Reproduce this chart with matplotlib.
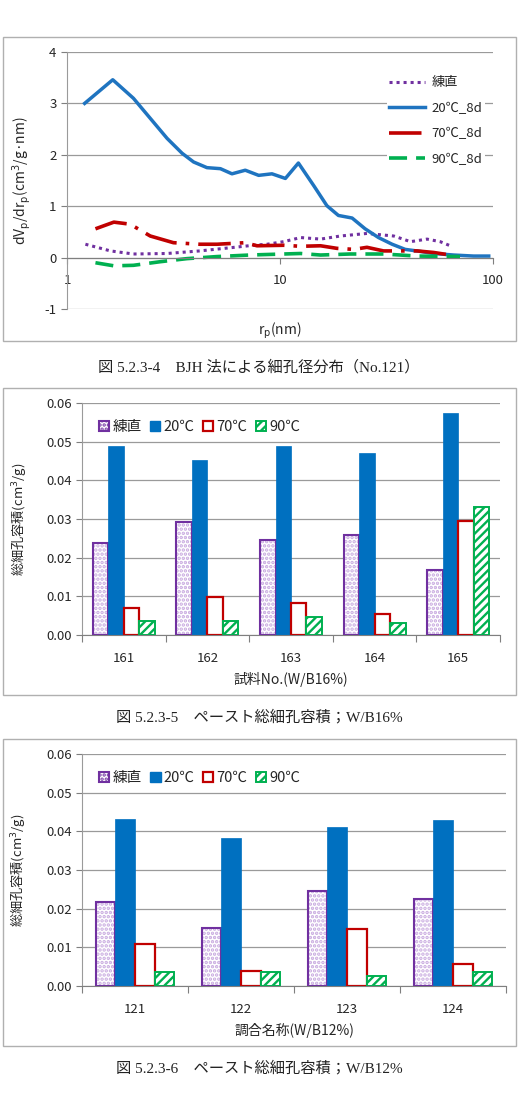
import matplotlib
matplotlib.use('Agg')
import matplotlib.pyplot as plt
import numpy as np
from matplotlib.patches import Rectangle, Patch

plt.rcParams['font.family'] = ['Noto Sans CJK JP', 'DejaVu Sans']
plt.rcParams['mathtext.fontset'] = 'dejavusans'
plt.rcParams['axes.unicode_minus'] = False
plt.rcParams['hatch.linewidth'] = 1.7

# --- chart 1: BJH pore size distribution (No.121) ---
r_20 = [1.21, 1.64, 2.05, 2.38, 2.95, 3.47, 3.93, 4.54, 5.25, 5.95, 6.87, 7.94, 9.17,
        10.6, 12.2, 14.4, 16.6, 18.8, 21.8, 25.1, 29.0, 33.6, 38.7, 45.6, 52.6, 65.3, 81.1, 95.5]
dv_20 = [3.00, 3.46, 3.10, 2.78, 2.32, 2.03, 1.86, 1.75, 1.73, 1.63, 1.70, 1.60, 1.63,
         1.54, 1.84, 1.40, 1.01, 0.82, 0.77, 0.56, 0.39, 0.26, 0.16, 0.12, 0.08, 0.05, 0.03, 0.03]
r_mix = [1.22, 1.6, 2.05, 2.95, 4.2, 6.1, 7.5, 8.7, 10.4, 12.5, 15.5, 19.2, 25.6, 34.2, 41, 49, 56.5, 63]
dv_mix = [0.26, 0.13, 0.07, 0.08, 0.13, 0.20, 0.24, 0.26, 0.31, 0.39, 0.36, 0.42, 0.47, 0.42, 0.31, 0.36, 0.31, 0.23]
r_70 = [1.36, 1.66, 1.98, 2.46, 3.16, 4.2, 5.06, 6.87, 7.8, 10.4, 12.5, 15.5, 18.5, 22.2,
        25.6, 30.6, 36.7, 44, 52.6, 63]
dv_70 = [0.56, 0.69, 0.65, 0.42, 0.29, 0.26, 0.26, 0.29, 0.23, 0.24, 0.22, 0.23, 0.18, 0.16,
         0.20, 0.13, 0.13, 0.13, 0.10, 0.05]
r_90 = [1.36, 1.66, 2.05, 2.74, 3.66, 5.06, 7.2, 10.4, 12.5, 15.5, 21.3, 30.6, 44, 70]
dv_90 = [-0.10, -0.16, -0.15, -0.08, -0.02, 0.02, 0.05, 0.07, 0.08, 0.05, 0.07, 0.07, 0.03, 0.02]
line_labels = ['練直', '20℃_8d', '70℃_8d', '90℃_8d']

# --- charts 2 and 3: total pore volume ---
bar_labels = ['練直', '20℃', '70℃', '90℃']
samples_16 = ['161', '162', '163', '164', '165']
mix_16 = [0.0239, 0.0291, 0.0246, 0.0258, 0.0168]
t20_16 = [0.0490, 0.0452, 0.0488, 0.0471, 0.0573]
t70_16 = [0.0070, 0.0098, 0.0082, 0.0054, 0.0296]
t90_16 = [0.0037, 0.0037, 0.0046, 0.0032, 0.0332]

samples_12 = ['121', '122', '123', '124']
mix_12 = [0.0216, 0.0149, 0.0246, 0.0225]
t20_12 = [0.0431, 0.0384, 0.0412, 0.0429]
t70_12 = [0.0108, 0.0040, 0.0147, 0.0056]
t90_12 = [0.0035, 0.0037, 0.0026, 0.0035]

captions = ['図 5.2.3-4　BJH 法による細孔径分布（No.121）',
            '図 5.2.3-5　ペースト総細孔容積；W/B16%',
            '図 5.2.3-6　ペースト総細孔容積；W/B12%']

PURPLE = '#7030A0'
DOTS = '#C7A8DF'
BLUE = '#0070C0'
LINEBLUE = '#1F74C0'
RED = '#C00000'
GREEN = '#00B050'
GRID = '#9A9A9A'
TXT = '#262626'

W, H = 521, 1102
fig = plt.figure(figsize=(W / 100, H / 100), dpi=100)


def fx(px):
    return px / W


def fy(py):
    return 1 - py / H


# chart frames
for top, bot in [(37, 341), (388, 695), (739, 1046)]:
    fig.add_artist(Rectangle((fx(3), fy(bot)), fx(513), (bot - top) / H,
                             transform=fig.transFigure, fill=False,
                             edgecolor='#B0B0B0', lw=1.0))

cap_font = ['Liberation Serif', 'Noto Sans CJK JP']
for cy, txt in zip([367, 717, 1068], captions):
    fig.text(0.497, fy(cy), txt, ha='center', va='center', fontsize=11,
             family=cap_font, color='#222222')

# ---------- chart 1 ----------
ax1 = fig.add_axes([fx(67), fy(309), fx(493 - 67), (309 - 52) / H])
ax1.plot(r_mix, dv_mix, color=PURPLE, lw=2.2, ls=(0, (1, 1.3)), label=line_labels[0])
ax1.plot(r_20, dv_20, color=LINEBLUE, lw=2.5, label=line_labels[1])
ax1.plot(r_70, dv_70, color=RED, lw=2.6, ls=(0, (9, 2.5, 1, 2.5)), label=line_labels[2])
ax1.plot(r_90, dv_90, color=GREEN, lw=2.6, ls=(0, (5, 2.5)), label=line_labels[3])
ax1.set_xscale('log')
ax1.set_xlim(1, 100)
ax1.set_ylim(-1, 4)
ax1.set_yticks([-1, 0, 1, 2, 3, 4])
ax1.set_xticks([1, 10, 100])
ax1.set_xticklabels(['1', '10', '100'])
ax1.xaxis.set_minor_locator(matplotlib.ticker.NullLocator())
ax1.grid(axis='y', color=GRID, lw=0.9)
ax1.set_axisbelow(True)
for s in ['top', 'right']:
    ax1.spines[s].set_visible(False)
ax1.spines['bottom'].set_position(('data', 0))
ax1.spines['bottom'].set_color('#7F7F7F')
ax1.spines['left'].set_color(GRID)
ax1.tick_params(axis='both', colors='#7F7F7F', labelcolor=TXT, labelsize=9.5, length=4)
ax1.tick_params(axis='x', pad=8)
ax1.set_ylabel('dV$_\\mathrm{p}$/dr$_\\mathrm{p}$(cm$^3$/g·nm)', fontsize=10, color=TXT)
ax1.yaxis.set_label_coords(-0.08, 0.5)
ax1.set_xlabel('r$_\\mathrm{p}$(nm)', fontsize=10, color=TXT)
ax1.xaxis.set_label_coords(0.5, -0.045)
leg1 = ax1.legend(loc='upper left', bbox_to_anchor=(fx(380), fy(67)),
                  bbox_transform=fig.transFigure, frameon=True, fontsize=9.5,
                  handlelength=2.7, labelspacing=0.95, borderpad=0.2,
                  handletextpad=0.5)
leg1.get_frame().set_facecolor('white')
leg1.get_frame().set_edgecolor('none')
leg1.get_frame().set_alpha(1)
for t in leg1.get_texts():
    t.set_color(TXT)


# ---------- charts 2 & 3 ----------
def bar_chart(rect, names, mix, t20, t70, t90, xlabel):
    ax = fig.add_axes(rect)
    x = np.arange(len(names))
    bw = 0.185
    # dotted fill in a light purple, then the purple outline on top
    ax.bar(x - 1.5 * bw, mix, bw, facecolor='white', edgecolor=DOTS,
           hatch='....', lw=0)
    ax.bar(x - 1.5 * bw, mix, bw, fill=False, edgecolor=PURPLE, lw=1.5)
    ax.bar(x - 0.5 * bw, t20, bw, color=BLUE, edgecolor=BLUE, lw=0.5)
    ax.bar(x + 0.5 * bw, t70, bw, facecolor='white', edgecolor=RED, lw=1.6)
    ax.bar(x + 1.5 * bw, t90, bw, facecolor='white', edgecolor=GREEN, hatch='////',
           lw=1.4)
    ax.set_xlim(-0.5, len(names) - 0.5)
    ax.set_ylim(0, 0.06)
    ax.set_yticks(np.arange(0, 0.061, 0.01))
    ax.set_yticklabels(['%.2f' % v for v in np.arange(0, 0.061, 0.01)])
    ax.set_xticks(np.arange(-0.5, len(names), 1.0))
    ax.set_xticklabels([])
    ax.set_xticks(x, minor=True)
    ax.set_xticklabels(names, minor=True)
    ax.tick_params(axis='x', which='minor', length=0, pad=12, labelsize=9.5, labelcolor=TXT)
    ax.tick_params(axis='x', which='major', length=5, colors='#7F7F7F')
    ax.tick_params(axis='y', length=4, colors='#7F7F7F', labelcolor=TXT, labelsize=9.5)
    ax.grid(axis='y', color=GRID, lw=0.9)
    ax.set_axisbelow(True)
    for s in ['top', 'right']:
        ax.spines[s].set_visible(False)
    ax.spines['bottom'].set_color('#7F7F7F')
    ax.spines['left'].set_color(GRID)
    ax.set_ylabel('総細孔容積(cm$^3$/g)', fontsize=9.5, color=TXT)
    ax.yaxis.set_label_coords(-0.13, 0.5)
    ax.set_xlabel(xlabel, fontsize=10, color=TXT, labelpad=5)
    handles = [Patch(facecolor='white', edgecolor=PURPLE, hatch='....', lw=1.5),
               Patch(facecolor=BLUE, edgecolor=BLUE),
               Patch(facecolor='white', edgecolor=RED, lw=1.6),
               Patch(facecolor='white', edgecolor=GREEN, hatch='////', lw=1.4)]
    leg = ax.legend(handles, bar_labels, loc='upper left', bbox_to_anchor=(0.02, 0.965),
                    ncol=4, frameon=False, fontsize=10.5, handlelength=0.7,
                    handleheight=0.7, handletextpad=0.2, columnspacing=0.6,
                    borderaxespad=0.2)
    for t in leg.get_texts():
        t.set_color(TXT)
    return ax


bar_chart([fx(82), fy(635), fx(500 - 82), (635 - 403) / H], samples_16,
          mix_16, t20_16, t70_16, t90_16, '試料No.(W/B16%)')
bar_chart([fx(82), fy(986), fx(506 - 82), (986 - 754) / H], samples_12,
          mix_12, t20_12, t70_12, t90_12, '調合名称(W/B12%)')

fig.savefig('out.png', dpi=100)
